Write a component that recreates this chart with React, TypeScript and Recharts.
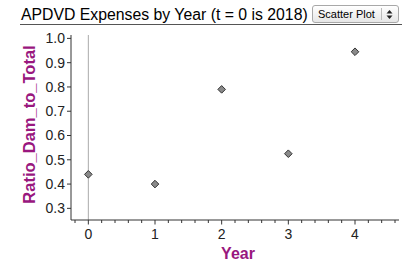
import React from 'react';
import {
  ScatterChart,
  Scatter,
  XAxis,
  YAxis,
  ReferenceLine,
} from 'recharts';

// Fathom-style scatter: ratio of damage to total by year
const years = [0, 1, 2, 3, 4];
const ratios = [0.44, 0.4, 0.79, 0.525, 0.945];
const xTicks = [
  -0.2, 0, 0.2, 0.4, 0.6, 0.8, 1, 1.2, 1.4, 1.6, 1.8, 2, 2.2, 2.4, 2.6, 2.8,
  3, 3.2, 3.4, 3.6, 3.8, 4, 4.2, 4.4, 4.6,
];
const yTicks = [0.3, 0.4, 0.5, 0.6, 0.7, 0.8, 0.9, 1.0];

const title = 'APDVD Expenses by Year (t = 0 is 2018)';
const plotType = 'Scatter Plot';

const PURPLE = '#99177e';
const FONT = '"Liberation Sans", Arial, sans-serif';

const data = years.map((y, i) => ({ year: y, ratio: ratios[i] }));

const Diamond = (props: any) => {
  const { cx, cy } = props;
  const r = 3.8;
  return (
    <path
      d={`M${cx},${cy - r}L${cx + r},${cy}L${cx},${cy + r}L${cx - r},${cy}Z`}
      fill="#8a8a8a"
      stroke="#333"
      strokeWidth={1}
      strokeLinejoin="round"
    />
  );
};

// minor ticks every 0.2, label only on whole years
const XTick = (props: any) => {
  const { x, y, payload } = props;
  const v = payload.value;
  const major = Math.abs(v - Math.round(v)) < 1e-6;
  return (
    <g>
      <line x1={x} y1={y} x2={x} y2={y + (major ? 4.5 : 3)} stroke="#333" />
      {major && (
        <text x={x} y={y + 19} textAnchor="middle" fill="#222" fontSize={14} fontFamily={FONT}>
          {Math.round(v)}
        </text>
      )}
    </g>
  );
};

export default function App() {
  return (
    <div style={{ position: 'absolute', left: 0, top: 0, width: 402, height: 263, background: '#fff', fontFamily: FONT }}>
      <div style={{ position: 'absolute', left: 21, top: 5, fontSize: 15.8, color: '#000', whiteSpace: 'nowrap', lineHeight: '20px' }}>
        {title}
      </div>
      <div style={{ position: 'absolute', left: 20, right: 0, top: 24, height: 1, background: '#555' }} />
      <div
        style={{
          position: 'absolute',
          left: 312,
          top: 5,
          width: 85,
          height: 16,
          border: '1px solid #a8a8a8',
          borderRadius: 3,
          background: 'linear-gradient(#ffffff, #e6e6e6)',
          fontSize: 11,
          lineHeight: '16px',
          color: '#000',
        }}
      >
        <span style={{ position: 'absolute', left: 5, top: 0 }}>{plotType}</span>
        <div style={{ position: 'absolute', left: 68, top: 2, width: 1, height: 12, background: '#bbb' }} />
        <svg style={{ position: 'absolute', left: 72, top: 3 }} width={9} height={11}>
          <path d="M1.5,4.5L4.5,1L7.5,4.5Z" fill="#222" />
          <path d="M1.5,6.5L4.5,10L7.5,6.5Z" fill="#222" />
        </svg>
      </div>
      <ScatterChart
        width={402}
        height={263}
        margin={{ top: 35, right: 3, bottom: 0, left: 0 }}
        style={{ position: 'absolute', left: 0, top: 0 }}
      >
        <XAxis
          type="number"
          dataKey="year"
          domain={[-0.26, 4.66]}
          ticks={xTicks}
          interval={0}
          height={43}
          axisLine={{ stroke: '#333' }}
          tickLine={false}
          tickSize={0}
          tickMargin={0}
          tick={<XTick />}
          allowDataOverflow
          label={{
            value: 'Year',
            position: 'insideBottom',
            offset: 4,
            dx: 3,
            fill: PURPLE,
            fontSize: 16,
            fontWeight: 'bold',
            fontFamily: FONT,
          }}
        />
        <YAxis
          type="number"
          dataKey="ratio"
          domain={[0.252, 1.014]}
          ticks={yTicks}
          interval={0}
          width={71}
          axisLine={{ stroke: '#333' }}
          tickLine={{ stroke: '#333' }}
          tickSize={4}
          tickMargin={2}
          tickFormatter={(v: number) => v.toFixed(1)}
          tick={{ fill: '#222', fontSize: 14, fontFamily: FONT }}
          allowDataOverflow
          label={{
            value: 'Ratio_Dam_to_Total',
            angle: -90,
            position: 'center',
            dx: -6,
            dy: -3,
            fill: PURPLE,
            fontSize: 16.5,
            fontWeight: 'bold',
            fontFamily: FONT,
          }}
        />
        <ReferenceLine x={0} stroke="#aaa" strokeWidth={1} />
        <Scatter data={data} shape={<Diamond />} isAnimationActive={false} />
      </ScatterChart>
    </div>
  );
}
